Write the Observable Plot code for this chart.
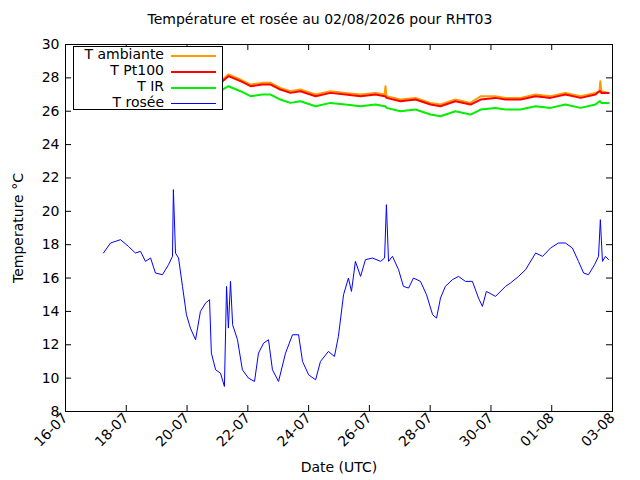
<!DOCTYPE html>
<html><head><meta charset="utf-8">
<script src="https://cdn.jsdelivr.net/npm/d3@7"></script>
<script src="https://cdn.jsdelivr.net/npm/@observablehq/plot@0.6"></script>
<style>
body{margin:0;background:#fff;font-family:"DejaVu Sans",sans-serif;}
#wrap{position:relative;width:640px;height:480px;}
#title{position:absolute;top:11px;left:0;width:640px;text-align:center;font-size:14px;}
#legend{position:absolute;left:73px;top:46px;width:148px;height:62px;border:1px solid #000;background:#fff;font-size:14px;}
.row{position:absolute;left:0;width:148px;height:16px;}
.row span{position:absolute;right:58px;top:-2px;white-space:nowrap;}
.row i{position:absolute;left:97px;width:45px;top:7px;}
svg text{font-size:14px;}
</style></head><body>
<div id="wrap"><div id="title">Température et rosée au 02/08/2026 pour RHT03</div><div id="chart"></div>
<div id="legend"></div></div>
<script>
// days counted from 1 July 2026 (UTC), values > 31 are in August
const dewDays=[17.25,17.48,17.81,18.07,18.30,18.47,18.63,18.80,18.96,19.19,19.39,19.52,19.55,19.62,19.72,19.85,19.98,20.11,20.28,20.44,20.61,20.74,20.80,20.94,21.10,21.23,21.30,21.36,21.43,21.50,21.66,21.82,22.02,22.22,22.35,22.52,22.68,22.81,23.01,23.24,23.47,23.67,23.80,24.00,24.23,24.39,24.65,24.85,24.98,25.15,25.31,25.41,25.54,25.71,25.87,26.10,26.37,26.50,26.56,26.63,26.76,26.96,27.12,27.29,27.45,27.68,27.88,28.08,28.21,28.34,28.50,28.73,28.93,29.16,29.39,29.59,29.72,29.85,30.15,30.48,30.64,30.91,31.14,31.47,31.70,31.96,32.22,32.45,32.68,32.88,33.05,33.21,33.41,33.54,33.60,33.67,33.77,33.87];
const dewValues=[17.5,18.1,18.3,17.9,17.5,17.6,17.0,17.2,16.3,16.2,16.8,17.3,21.3,17.5,17.2,15.5,13.8,13.0,12.3,14.0,14.5,14.7,11.5,10.5,10.3,9.5,15.5,13.0,15.8,13.2,12.3,10.5,10.0,9.8,11.5,12.1,12.3,10.5,9.8,11.5,12.6,12.6,11.0,10.2,9.9,11.0,11.6,11.3,12.5,15.0,16.0,15.2,17.0,16.1,17.1,17.2,17.0,17.2,20.4,17.0,17.3,16.5,15.5,15.4,16.0,15.8,15.0,13.8,13.6,14.8,15.5,15.9,16.1,15.8,15.8,14.8,14.3,15.2,14.9,15.5,15.7,16.1,16.5,17.5,17.3,17.8,18.1,18.1,17.8,17.0,16.3,16.2,16.8,17.3,19.5,17.0,17.3,17.1];
const tempDays=[21.17,21.36,21.76,22.09,22.48,22.75,23.07,23.40,23.73,24.23,24.72,25.21,25.71,26.20,26.50,26.53,26.56,27.02,27.52,28.01,28.34,28.83,29.33,29.66,30.15,30.48,30.97,31.47,31.96,32.45,32.95,33.44,33.57,33.60,33.63,33.87];
const ambValues=[27.9,28.2,27.9,27.6,27.7,27.7,27.4,27.2,27.3,27.0,27.2,27.1,27.0,27.1,27.0,27.5,26.9,26.7,26.8,26.5,26.4,26.7,26.5,26.9,26.9,26.8,26.8,27.0,26.9,27.1,26.9,27.1,27.2,27.8,27.2,27.1];
const ptValues=[27.8,28.1,27.8,27.5,27.6,27.6,27.3,27.1,27.2,26.9,27.1,27.0,26.9,27.0,26.9,26.9,26.8,26.6,26.7,26.4,26.3,26.6,26.4,26.7,26.8,26.7,26.7,26.9,26.8,27.0,26.8,27.0,27.2,27.2,27.1,27.1];
const irValues=[27.3,27.5,27.2,26.9,27.0,27.0,26.7,26.5,26.6,26.3,26.5,26.4,26.3,26.4,26.3,26.3,26.2,26.0,26.1,25.8,25.7,26.0,25.8,26.1,26.2,26.1,26.1,26.3,26.2,26.4,26.2,26.4,26.6,26.6,26.5,26.5];
const yTicks=[8,10,12,14,16,18,20,22,24,26,28,30];
const xTickDays=[16,18,20,22,24,26,28,30,32,34];
const series=[{name:"T ambiante",color:"#ff9900",vals:ambValues,w:2},{name:"T Pt100",color:"#ff0000",vals:ptValues,w:2},{name:"T IR",color:"#00ee00",vals:irValues,w:2}];
const dew={name:"T rosée",color:"#0000ff",w:1};

const d=v=>new Date(Date.UTC(2026,6,1)+(v-1)*864e5);
const fmt=d3.utcFormat("%d-%m");
const x0=d(16),x1=d(34);
const tickLen=0.18, dayLen=0.2*864e5;
const lines=series.map(s=>Plot.line(tempDays.map((t,i)=>({t:d(t),v:s.vals[i]})),{x:"t",y:"v",stroke:s.color,strokeWidth:s.w}));
const order=[lines[2],lines[0],lines[1]];
const chart=Plot.plot({
  width:640,height:480,marginLeft:65,marginRight:28,marginTop:44,marginBottom:69,
  style:{fontFamily:"DejaVu Sans, sans-serif",fontSize:"14px",color:"#000"},
  x:{type:"utc",domain:[x0,x1]},
  y:{domain:[8,30]},
  marks:[
    Plot.frame({stroke:"#000"}),
    Plot.axisY({ticks:yTicks,tickSize:0,tickPadding:6,fontSize:14,label:"Temperature °C",labelAnchor:"center",labelArrow:"none",labelOffset:52}),
    Plot.axisX({ticks:xTickDays.map(d),tickFormat:fmt,tickSize:0,tickRotate:-45,tickPadding:4,fontSize:14,label:null}),
    Plot.text(["Date (UTC)"],{frameAnchor:"bottom",dy:60,fontSize:14}),
    Plot.ruleY(yTicks,{x1:x0,x2:new Date(+x0+dayLen),stroke:"#000"}),
    Plot.ruleY(yTicks,{x1:x1,x2:new Date(+x1-dayLen),stroke:"#000"}),
    Plot.ruleX(xTickDays.map(d),{y1:8,y2:8+tickLen*2,stroke:"#000"}),
    Plot.ruleX(xTickDays.map(d),{y1:30,y2:30-tickLen*2,stroke:"#000"}),
    ...order,
    Plot.line(dewDays.map((t,i)=>({t:d(t),v:dewValues[i]})),{x:"t",y:"v",stroke:dew.color,strokeWidth:1})
  ]
});
document.getElementById("chart").append(chart);
const lg=document.getElementById("legend");
[...series,dew].forEach((s,i)=>{
  const r=document.createElement("div");r.className="row";r.style.top=(i*16+1)+"px";
  r.innerHTML=`<span>${s.name}</span><i style="border-top:${s.w}px solid ${s.color}"></i>`;
  lg.append(r);
});
</script></body></html>
